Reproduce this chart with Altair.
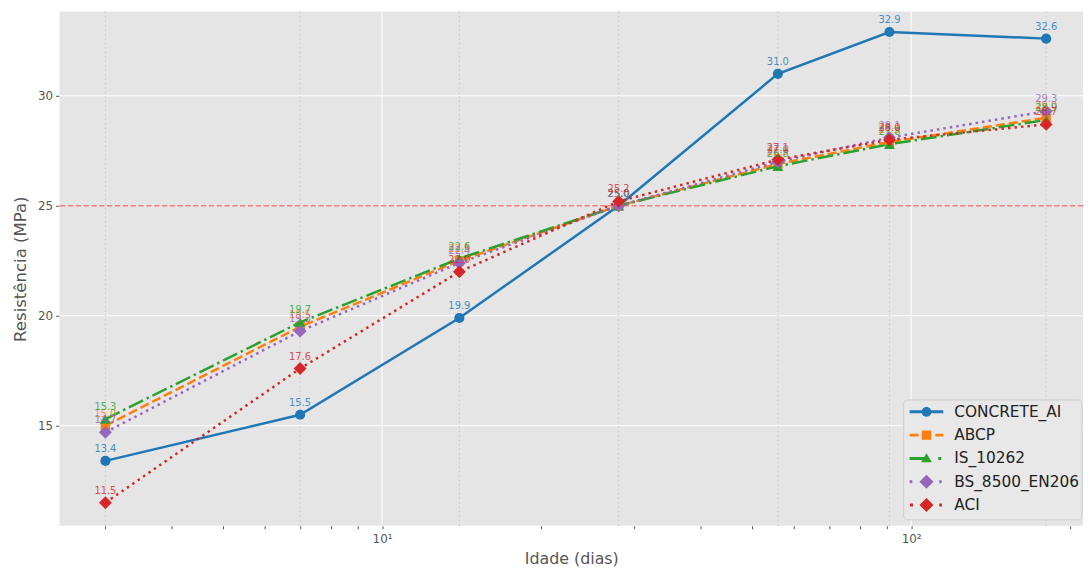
import math
import altair as alt
import pandas as pd

# ---------------- data ----------------
ages = [3, 7, 14, 28, 56, 91, 180]
series_names = ["CONCRETE_AI", "ABCP", "IS_10262", "BS_8500_EN206", "ACI"]
concrete_ai = [13.4, 15.5, 19.9, 25.0, 31.0, 32.9, 32.6]
abcp = [15.0, 19.5, 22.5, 25.0, 26.9, 27.9, 29.0]
is_10262 = [15.3, 19.7, 22.6, 25.0, 26.8, 27.8, 28.9]
bs_8500_en206 = [14.7, 19.3, 22.4, 25.0, 27.0, 28.1, 29.3]
aci = [11.5, 17.6, 22.0, 25.2, 27.1, 28.0, 28.7]
target_strength = [25.0]

x_major = [10, 100]
x_minor = [3, 4, 5, 6, 7, 8, 9, 20, 30, 40, 50, 60, 70, 80, 90, 200]
y_ticks = [15, 20, 25, 30]

colors = ["#1f77b4", "#ff7f0e", "#2ca02c", "#9467bd", "#d62728"]

# ---------------- styles ----------------
styles = {
    "CONCRETE_AI": dict(dash=None, shape="circle", size=105),
    "ABCP": dict(dash=[9.25, 4], shape="square", size=90),
    "IS_10262": dict(dash=[16, 4, 2.5, 4], shape="triangle-up", size=120),
    "BS_8500_EN206": dict(dash=[2.5, 4.1], shape="diamond", size=169),
    "ACI": dict(dash=[2.5, 4.1], shape="diamond", size=169),
}


# legend glyphs: line segments (thin filled bars) + marker, in unit symbol space
def poly(points):
    return "M" + " L".join(f"{x:.3f} {y:.3f}" for x, y in points) + " Z "


T = 0.088


def seg(a, b):
    return poly([(a, -T), (b, -T), (b, T), (a, T)])


rc = 0.29
circle = poly([(rc * math.cos(2 * math.pi * k / 28), rc * math.sin(2 * math.pi * k / 28)) for k in range(28)])
rs = 0.28
square = poly([(-rs, -rs), (rs, -rs), (rs, rs), (-rs, rs)])
tri = poly([(0, -0.31), (0.32, 0.22), (-0.32, 0.22)])
dia = poly([(0, -0.42), (0.42, 0), (0, 0.42), (-0.42, 0)])
legend_paths = [
    (seg(-1, 1) + circle).strip(),
    (seg(-1, -0.47) + seg(-0.24, 0.29) + seg(0.53, 1) + square).strip(),
    (seg(-1, -0.1) + seg(0.7, 0.88) + tri).strip(),
    (seg(-1, -0.84) + seg(0.76, 0.9) + dia).strip(),
    (seg(-0.98, -0.8) + seg(0.76, 0.92) + dia).strip(),
]

# legend box layout (pixels inside the plot area)
LEG_X0, LEG_X1, LEG_Y0, LEG_Y1 = 852, 1032, 392, 513
LEG_ROW0, LEG_STEP = 404, 23.5
LEG_SYM_X, LEG_TXT_X = 875, 903

rows = []
for name, vals in zip(series_names, [concrete_ai, abcp, is_10262, bs_8500_en206, aci]):
    for a, v in zip(ages, vals):
        rows.append({"Idade": a, "Resistencia": v, "Serie": name})
df = pd.DataFrame(rows)

xscale = alt.Scale(type="log", domain=[2.457, 211.3], nice=False)
yscale = alt.Scale(domain=[10.45, 33.83], nice=False, zero=False)

x_axis = alt.Axis(
    values=x_minor + x_major,
    labelExpr="datum.value == 10 ? '10¹' : (datum.value == 100 ? '10²' : '')",
    grid=False,
    tickSize=3,
    tickColor="#555555",
    domain=False,
    labelFontSize=12,
    labelColor="#555555",
    labelPadding=5,
    labelFlush=False,
    labelOverlap=False,
    title="Idade (dias)",
    titleFontSize=16,
    titleFontWeight="normal",
    titleColor="#555555",
    titlePadding=6,
)
y_axis = alt.Axis(
    values=y_ticks,
    grid=False,
    tickSize=4,
    tickColor="#555555",
    domain=False,
    labelFontSize=12,
    labelColor="#555555",
    labelPadding=3,
    title="Resistência (MPa)",
    titleFontSize=16.7,
    titleFontWeight="normal",
    titleColor="#555555",
    titlePadding=8,
)

one_row = pd.DataFrame({"k": [0]})

# plot-area background
panel = alt.Chart(one_row).mark_rect(color="#E5E5E5").encode(
    x=alt.value(0), x2=alt.value("width"), y=alt.value(0), y2=alt.value("height")
)

xgrid = alt.Chart(pd.DataFrame({"Idade": x_major})).mark_rule(color="white", strokeWidth=1).encode(
    x=alt.X("Idade:Q", scale=xscale, axis=x_axis)
)
ygrid = alt.Chart(pd.DataFrame({"Resistencia": y_ticks})).mark_rule(color="white", strokeWidth=1).encode(
    y=alt.Y("Resistencia:Q", scale=yscale, axis=y_axis)
)

vlines = alt.Chart(pd.DataFrame({"Idade": ages})).mark_rule(
    color="gray", opacity=0.3, strokeDash=[1.5, 3], strokeWidth=1
).encode(x=alt.X("Idade:Q", scale=xscale))

hline = alt.Chart(pd.DataFrame({"Resistencia": target_strength})).mark_rule(
    color="red", opacity=0.5, strokeDash=[5.5, 2.4], strokeWidth=1.5
).encode(y=alt.Y("Resistencia:Q", scale=yscale))

base = alt.Chart(df)
layers = [panel, xgrid, ygrid, vlines, hline]
for name, col in zip(series_names, colors):
    st = styles[name]
    sub = base.transform_filter(alt.datum.Serie == name)
    enc = dict(
        x=alt.X("Idade:Q", scale=xscale),
        y=alt.Y("Resistencia:Q", scale=yscale),
    )
    if st["dash"]:
        ln = sub.mark_line(color=col, strokeWidth=2.5, strokeDash=st["dash"], strokeCap="butt")
    else:
        ln = sub.mark_line(color=col, strokeWidth=2.5)
    layers.append(ln.encode(**enc))
    layers.append(
        sub.mark_point(shape=st["shape"], size=st["size"], filled=True, opacity=1, color=col).encode(**enc)
    )

labels = base.mark_text(fontSize=10, dy=-12, baseline="middle", opacity=0.8).encode(
    x=alt.X("Idade:Q", scale=xscale),
    y=alt.Y("Resistencia:Q", scale=yscale),
    text=alt.Text("Resistencia:Q", format=".1f"),
    fill=alt.Fill("Serie:N", scale=alt.Scale(domain=series_names, range=colors), legend=None),
)
layers.append(labels)

# ---------------- legend (drawn as marks) ----------------
legend_box = alt.Chart(one_row).mark_rect(
    fill="#e8e8e8", stroke="#cccccc", strokeWidth=1, cornerRadius=4
).encode(
    x=alt.value(LEG_X0), x2=alt.value(LEG_X1), y=alt.value(LEG_Y0), y2=alt.value(LEG_Y1)
)
layers.append(legend_box)

for i, (name, col, path) in enumerate(zip(series_names, colors, legend_paths)):
    entry = alt.Chart(pd.DataFrame({"Serie": [name]}))
    yy = LEG_ROW0 + i * LEG_STEP
    layers.append(
        entry.mark_point(shape=path, size=1156, filled=True, opacity=1, color=col, strokeWidth=0).encode(
            x=alt.value(LEG_SYM_X), y=alt.value(yy)
        )
    )
    layers.append(
        entry.mark_text(align="left", baseline="middle", fontSize=15.5, color="#222222").encode(
            x=alt.value(LEG_TXT_X), y=alt.value(yy), text="Serie:N"
        )
    )

chart = (
    alt.layer(*layers)
    .properties(
        width=1033,
        height=519,
        padding={"left": 4, "top": 0, "right": 0, "bottom": 0},
    )
    .configure(font="DejaVu Sans")
    .configure_view(strokeWidth=0)
)

chart.save("out.html", embed_options={"renderer": "svg", "actions": False})
